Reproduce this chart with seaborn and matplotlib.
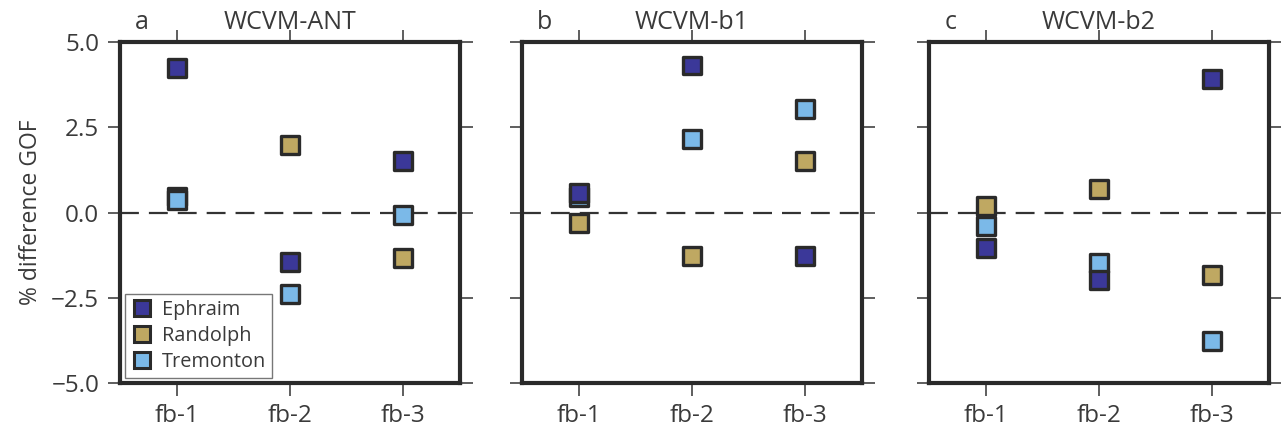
import matplotlib
matplotlib.use("Agg")
import matplotlib.pyplot as plt
from matplotlib.lines import Line2D
import seaborn as sns
import pandas as pd

# Feedback categories and sites
feedbacks = ["fb-1", "fb-2", "fb-3"]
sites = ["Ephraim", "Randolph", "Tremonton"]
panel_letters = ["a", "b", "c"]
panel_titles = ["WCVM-ANT", "WCVM-b1", "WCVM-b2"]

# % difference in goodness of fit, per panel and site (values at fb-1, fb-2, fb-3)
ant_ephraim = [4.23, -1.44, 1.52]
ant_randolph = [0.47, 1.98, -1.33]
ant_tremonton = [0.37, -2.39, -0.07]

b1_ephraim = [0.56, 4.31, -1.28]
b1_randolph = [-0.32, -1.27, 1.51]
b1_tremonton = [0.46, 2.15, 3.03]

b2_ephraim = [-1.05, -1.98, 3.91]
b2_randolph = [0.19, 0.69, -1.83]
b2_tremonton = [-0.40, -1.49, -3.76]

y_ticks = [5.0, 2.5, 0.0, -2.5, -5.0]
y_tick_labels = ["5.0", "2.5", "0.0", "\u22122.5", "\u22125.0"]

site_colors = {"Ephraim": "#3b3899", "Randolph": "#bfa862", "Tremonton": "#7bb9e8"}
draw_order = ["Randolph", "Tremonton", "Ephraim"]

panels = [
    {"Ephraim": ant_ephraim, "Randolph": ant_randolph, "Tremonton": ant_tremonton},
    {"Ephraim": b1_ephraim, "Randolph": b1_randolph, "Tremonton": b1_tremonton},
    {"Ephraim": b2_ephraim, "Randolph": b2_randolph, "Tremonton": b2_tremonton},
]

sns.set_theme(style="white")
plt.rcParams["font.family"] = ["Open Sans", "DejaVu Sans"]
ink = "#2a2a2a"
text_color = "#3a3a3a"

fig = plt.figure(figsize=(12.81, 4.28), dpi=100)
lefts = [120 / 1281, 522 / 1281, 929 / 1281]
bottom = 45 / 428
width = 340 / 1281
height = 341 / 428

for i, data in enumerate(panels):
    ax = fig.add_axes([lefts[i], bottom, width, height])
    rows = []
    for site in draw_order:
        for fb, val in zip(feedbacks, data[site]):
            rows.append({"feedback": fb, "site": site, "value": val})
    df = pd.DataFrame(rows)

    ax.axhline(0, color="#333333", lw=1.6, dashes=(8.5, 4.5), zorder=1)
    sns.scatterplot(data=df, x="feedback", y="value", hue="site",
                    palette=site_colors, marker="s", s=165,
                    edgecolor=ink, linewidth=2.4, legend=False, ax=ax, zorder=3)

    ax.set_xlim(-0.5, 2.5)
    ax.set_ylim(-5.0, 5.0)
    ax.set_xticks(range(len(feedbacks)))
    ax.set_xticklabels(feedbacks)
    ax.set_yticks(y_ticks)
    ax.set_xlabel("")
    if i == 0:
        ax.set_yticklabels(y_tick_labels)
        ax.set_ylabel("% difference GOF", fontsize=16.5, color=text_color, labelpad=6)
    else:
        ax.set_yticklabels([])
        ax.set_ylabel("")

    for sp in ax.spines.values():
        sp.set_visible(True)
        sp.set_color(ink)
        sp.set_linewidth(3.0)

    ax.tick_params(axis="both", which="major", direction="out", length=9,
                   width=1.1, color="#333333", labelsize=17.5, labelcolor=text_color,
                   top=True, right=True, bottom=True, left=True,
                   labeltop=False, labelright=False, pad=6)

    ax.text(0.045, 1.02, panel_letters[i], transform=ax.transAxes,
            fontsize=18, color=text_color, ha="left", va="bottom")
    ax.text(0.5, 1.02, panel_titles[i], transform=ax.transAxes,
            fontsize=18, color=text_color, ha="center", va="bottom")

    if i == 0:
        handles = [Line2D([0], [0], marker="s", linestyle="none",
                          markerfacecolor=site_colors[s], markeredgecolor=ink,
                          markeredgewidth=2.2, markersize=11.5) for s in sites]
        leg = ax.legend(handles, sites, loc="lower left", bbox_to_anchor=(0.0, 0.0),
                        frameon=True, fancybox=False, fontsize=14.3,
                        handletextpad=0.45, borderpad=0.3, labelspacing=0.3,
                        handlelength=1.1, borderaxespad=0.25)
        leg.get_frame().set_edgecolor("#555555")
        leg.get_frame().set_linewidth(1.0)
        for t in leg.get_texts():
            t.set_color(text_color)

fig.savefig("out.png", dpi=100)
